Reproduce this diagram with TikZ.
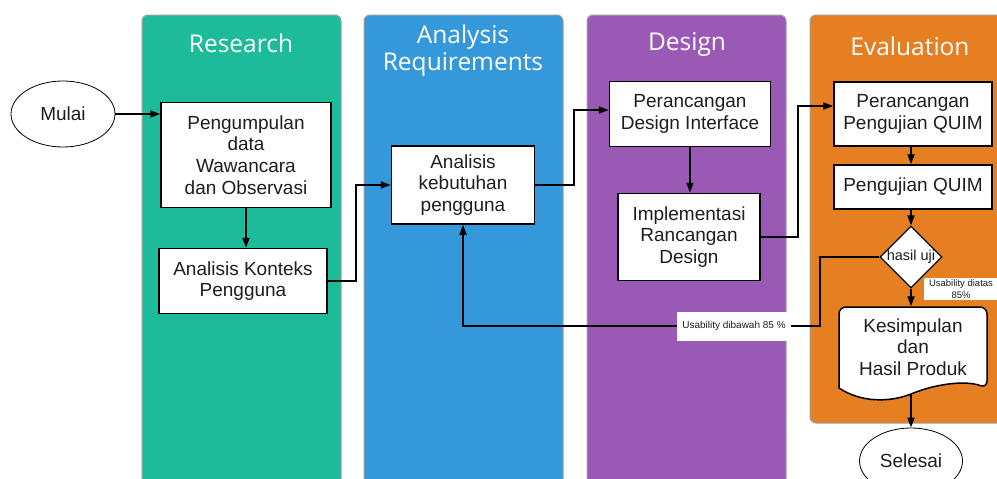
\documentclass[tikz,border=0pt]{standalone}
\usepackage{fontspec}
\setmainfont{Liberation Sans}
\newfontfamily\judulfont{Open Sans}
\usepackage{tikz}
\usepackage{xcolor}
\usetikzlibrary{arrows.meta}
\usetikzlibrary{shapes.geometric}
\definecolor{researche}{HTML}{1CBC9B}
\definecolor{analysise}{HTML}{3598DB}
\definecolor{designe}{HTML}{9B59B6}
\definecolor{evaluatione}{HTML}{E67E22}
\definecolor{garislane}{HTML}{A0A0A0}
\definecolor{tekskotak}{HTML}{1E1E1E}
\colorlet{judulcolor}{white}
\tikzstyle{lane} =[
    draw=garislane,
    line width=1pt,
    rounded corners=6pt
    ]
\tikzstyle{laneheading} =[
    text=judulcolor,
    font=\judulfont\fontsize{24.5}{27}\selectfont,
    align=center
    ]
\tikzstyle{proses} = [
    draw=black,
    fill=white,
    line width=1.5pt,
    rectangle,
    align=center,
    text=tekskotak,
    font=\fontsize{19}{21.7}\selectfont,
    inner sep=0pt
    ]
\tikzstyle{terminal} = [
    draw=black,
    fill=white,
    ellipse,
    line width=0.8pt,
    text=tekskotak,
    font=\fontsize{19}{21.7}\selectfont,
    inner sep=0pt
    ]
\tikzstyle{keputusan} = [
    draw=black,
    fill=white,
    diamond,
    aspect=1,
    line width=1.2pt,
    text=tekskotak,
    font=\fontsize{14.5}{17}\selectfont,
    inner sep=0pt
    ]
\tikzstyle{panah} = [
    line width=1.8pt,
    -{Triangle[length=10pt,width=7pt]}
    ]
\tikzstyle{catatan} = [
    fill=white,
    text=tekskotak,
    align=center,
    inner xsep=5pt
    ]

\begin{document}
\begin{tikzpicture}[x=1pt,y=-1pt]
\useasboundingbox (0,0) rectangle (997,479);

% lanes
\draw[lane, fill=researche] (142,15) rectangle (341,520);
\draw[lane, fill=analysise] (364,15) rectangle (563,520);
\draw[lane, fill=designe] (587,15) rectangle (786,520);
\draw[lane, fill=evaluatione] (810,15) rectangle (1020,423);
\node[laneheading] (jresearch) at (241,43) {Research};
\node[laneheading] (janalysis) at (463,51) {Analysis\\Requirements};
\node[laneheading] (jdesign) at (687,44) {Design};
\node[laneheading] (jevaluation) at (910,46) {Evaluation};

\node[terminal, minimum width=104pt, minimum height=66pt] (mulai) at (63,114) {Mulai};
\node[proses, minimum width=170pt, minimum height=105pt] (kumpul) at (246,155)
    {Pengumpulan\\data\\Wawancara\\dan Observasi};
\node[proses, minimum width=168pt, minimum height=65pt] (konteks) at (243,281)
    {Analisis Konteks\\Pengguna};
\node[proses, minimum width=143pt, minimum height=78pt] (butuh) at (463,185)
    {Analisis\\kebutuhan\\pengguna};
\node[proses, minimum width=161pt, minimum height=65pt] (rancang) at (690,114)
    {Perancangan\\Design Interface};
\node[proses, minimum width=142pt, minimum height=87pt] (implementasi) at (689,237)
    {Implementasi\\Rancangan\\Design};
\node[proses, minimum width=158pt, minimum height=64pt] (rancanguji) at (913,114)
    {Perancangan\\Pengujian QUIM};
\node[proses, minimum width=158pt, minimum height=44pt] (pengujian) at (913,187)
    {Pengujian QUIM};
\node[keputusan] (hasil) at (911,257) {hasil uji};

% dokumen
\draw[line width=1.5pt, fill=white] (839,388) [rounded corners=7pt] -- (839,307) -- (987,307)
    -- (987,388) [sharp corners] .. controls (965,380) and (935,384) .. (911,394)
    .. controls (888,403) and (860,402) .. (839,388) -- cycle;
\node[align=center, text=tekskotak, font=\fontsize{19}{21.7}\selectfont,
    minimum width=148pt, minimum height=81pt, inner sep=0pt] (simpulan) at (913,347)
    {Kesimpulan\\dan\\Hasil Produk};
\coordinate (simpulanbawah) at (911,394);

\node[terminal, minimum width=103pt, minimum height=66pt] (selesai) at (911,461) {Selesai};

\draw[panah] (mulai.east) -- (mulai.east -| kumpul.west);
\draw[panah] (kumpul.south) -- (kumpul.south |- konteks.north);
\draw[panah] (konteks.east) -- ++(28,0) |- (butuh.west);
\draw[panah] (butuh.east) -- ++(39,0) |- ([yshift=4pt]rancang.west);
\draw[panah] (rancang.south) -- (rancang.south |- implementasi.north);
\draw[panah] (implementasi.east) -- ++(37,0) |- ([yshift=8pt]rancanguji.west);
\draw[panah] (rancanguji.south -| hasil) -- (pengujian.north -| hasil);
\draw[panah] (pengujian.south -| hasil) -- (hasil.north);
\draw[panah] (hasil.south) -- (hasil.south |- simpulan.north);
\draw[panah] (simpulanbawah) -- (selesai.north);

\coordinate (balik) at (820,326);
\draw[panah] (hasil.west) -| (balik) -| (butuh.south);

\node[catatan, font=\fontsize{10}{12}\selectfont, minimum height=29pt] (dibawah) at (734,326)
    {Usability dibawah 85 \%};
\node[catatan, font=\fontsize{9.5}{11.5}\selectfont, inner ysep=2pt] (diatas) at (961,289)
    {Usability diatas\\85\%};
\end{tikzpicture}
\end{document}
